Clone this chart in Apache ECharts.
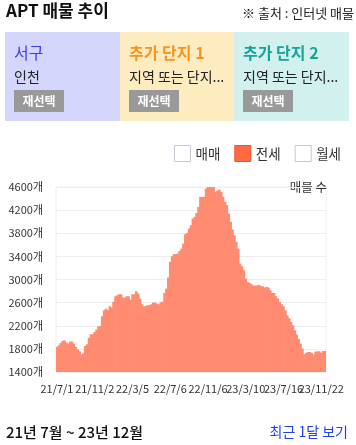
<!DOCTYPE html>
<html>
<head>
<meta charset="utf-8">
<script src="https://cdn.jsdelivr.net/npm/echarts@6/dist/echarts.min.js"></script>
<style>
html,body{margin:0;padding:0;background:#fff;}
#chart{width:356px;height:445px;}
</style>
</head>
<body>
<div id="chart"></div>
<script>
// x-axis tick labels (every 20th category)
const labelDates = ['21/7/1','21/11/2','22/3/5','22/7/6','22/11/6','23/3/10','23/7/16','23/11/22'];
// legend names
const seriesNames = ['매매','전세','월세'];
// 전세 listing counts
const jeonseCounts = [
1833,1862,1900,1937,1948,1913,1890,1925,1925,1890,
1833,1792,1758,1706,1720,1850,1880,1990,2052,2052,
2092,2133,2190,2196,2364,2467,2496,2467,2537,2514,
2612,2710,2727,2744,2744,2687,2687,2710,2710,2652,
2744,2744,2796,2756,2669,2571,2537,2537,2554,2554,
2571,2600,2600,2583,2571,2606,2617,2767,2842,3033,
3304,3402,3437,3437,3448,3494,3535,3621,3783,3806,
3881,3939,4054,4083,4152,4256,4429,4429,4429,4573,
4660,4631,4602,4602,4516,4533,4556,4516,4429,4343,
4285,4141,3997,3864,3766,3650,3535,3275,3229,3160,
3016,2958,2941,2918,2894,2894,2894,2906,2883,2883,
2860,2871,2860,2814,2767,2767,2710,2669,2612,2571,
2537,2467,2380,2330,2265,2208,2121,2050,1970,1890,
1804,1706,1729,1746,1746,1729,1700,1752,1758,1758,
1729,1763,1763];
const yTicks = {min:1400, max:4600, interval:400};

// build date categories between the labelled dates
function parseD(s){const p=s.split('/').map(Number);return new Date(2000+p[0],p[1]-1,p[2]);}
function fmtD(d){return (d.getFullYear()-2000)+'/'+(d.getMonth()+1)+'/'+d.getDate();}
const categories = [];
for (let a=0;a<labelDates.length-1;a++){
  const s=parseD(labelDates[a]), e=parseD(labelDates[a+1]);
  const span=(e-s)/86400000;
  for(let j=0;j<20;j++){
    if(j===0){categories.push(labelDates[a]);continue;}
    const d=new Date(s.getTime()); d.setDate(d.getDate()+Math.round(j*span/20));
    categories.push(fmtD(d));
  }
}
categories.push(labelDates[labelDates.length-1]);
while(categories.length<jeonseCounts.length){
  const d=parseD(labelDates[labelDates.length-1]);
  d.setDate(d.getDate()+6*(categories.length-140));
  categories.push(fmtD(d));
}

const FONT='"Noto Sans CJK KR","Noto Sans",sans-serif';
const chart = echarts.init(document.getElementById('chart'));
chart.setOption({
  animation:false,
  backgroundColor:'#fff',
  textStyle:{fontFamily:FONT},
  legend:{
    right:10, top:140, itemWidth:16, itemHeight:16, itemGap:14, icon:'rect',
    textStyle:{fontSize:13.5,color:'#333',fontFamily:FONT},
    selectedMode:false,
    data:[
      {name:seriesNames[0], itemStyle:{color:'#fff',borderColor:'#c6c7d3',borderWidth:1}},
      {name:seriesNames[1], itemStyle:{color:'#ff6a45',borderColor:'#f0502c',borderWidth:1}},
      {name:seriesNames[2], itemStyle:{color:'#fff',borderColor:'#c6c7d3',borderWidth:1}}
    ]
  },
  grid:{left:56,right:30,top:187,bottom:73,show:true,borderColor:'#eeeeee',borderWidth:1},
  xAxis:{
    type:'category', data:categories, boundaryGap:true,
    axisLine:{show:false}, axisTick:{show:false},
    axisLabel:{interval:0, fontSize:11, color:'#333', margin:11, fontFamily:FONT, hideOverlap:false,
      formatter:function(v, idx){return labelDates.indexOf(v) >= 0 && idx % 20 === 0 ? v : '';}}
  },
  yAxis:{
    type:'value', min:yTicks.min, max:yTicks.max, interval:yTicks.interval,
    axisLine:{show:false}, axisTick:{show:false},
    axisLabel:{formatter:function(v){return String(v)+'개';}, fontSize:11, color:'#333', margin:13, fontFamily:FONT},
    splitLine:{lineStyle:{color:'#eeeeee'}}
  },
  series:[
    {name:seriesNames[0], type:'line', data:[], itemStyle:{color:'#fff'}},
    {name:seriesNames[1], type:'bar', data:jeonseCounts, barWidth:2.6,
      itemStyle:{color:'#ff8b71'}},
    {name:seriesNames[2], type:'line', data:[], itemStyle:{color:'#fff'}}
  ],
  graphic:[
    {type:'text', left:6, top:2, style:{text:'APT 매물 추이', font:'bold 17px '+FONT, fill:'#111'}},
    {type:'text', right:2, top:7, style:{text:'※ 출처 : 인터넷 매물', font:'13px '+FONT, fill:'#222'}},
    {type:'rect', shape:{x:5,y:32,width:115,height:89}, style:{fill:'#d5d6fb'}},
    {type:'rect', shape:{x:120,y:32,width:114,height:89}, style:{fill:'#feecc1'}},
    {type:'rect', shape:{x:234,y:32,width:115,height:89}, style:{fill:'#d1f0ee'}},
    {type:'text', x:14, y:53, style:{text:'서구', font:'16px '+FONT, fill:'#3a3cf0', verticalAlign:'middle'}},
    {type:'text', x:129, y:53, style:{text:'추가 단지 1', font:'bold 16px '+FONT, fill:'#f7931e', verticalAlign:'middle'}},
    {type:'text', x:243, y:53, style:{text:'추가 단지 2', font:'bold 16px '+FONT, fill:'#17a39a', verticalAlign:'middle'}},
    {type:'text', x:14, y:77, style:{text:'인천', font:'14px '+FONT, fill:'#222', verticalAlign:'middle'}},
    {type:'text', x:129, y:77, style:{text:'지역 또는 단지...', font:'14px '+FONT, fill:'#222', verticalAlign:'middle'}},
    {type:'text', x:243, y:77, style:{text:'지역 또는 단지...', font:'14px '+FONT, fill:'#222', verticalAlign:'middle'}},
    {type:'rect', shape:{x:14,y:90,width:50,height:22}, style:{fill:'#999999'}},
    {type:'rect', shape:{x:129,y:90,width:50,height:22}, style:{fill:'#999999'}},
    {type:'rect', shape:{x:243,y:90,width:50,height:22}, style:{fill:'#999999'}},
    {type:'text', x:39, y:101, style:{text:'재선택', font:'bold 12px '+FONT, fill:'#fff', align:'center', verticalAlign:'middle'}},
    {type:'text', x:154, y:101, style:{text:'재선택', font:'bold 12px '+FONT, fill:'#fff', align:'center', verticalAlign:'middle'}},
    {type:'text', x:268, y:101, style:{text:'재선택', font:'bold 12px '+FONT, fill:'#fff', align:'center', verticalAlign:'middle'}},
    {type:'text', right:29, top:181, style:{text:'매물 수', font:'12.5px '+FONT, fill:'#333'}},
    {type:'text', x:6, y:432, style:{text:'21년 7월 ~ 23년 12월', font:'500 15px '+FONT, fill:'#111', verticalAlign:'middle'}},
    {type:'text', x:348, y:432, style:{text:'최근 1달 보기', font:'14px '+FONT, fill:'#2340e6', align:'right', verticalAlign:'middle'}}
  ]
});
</script>
</body>
</html>
